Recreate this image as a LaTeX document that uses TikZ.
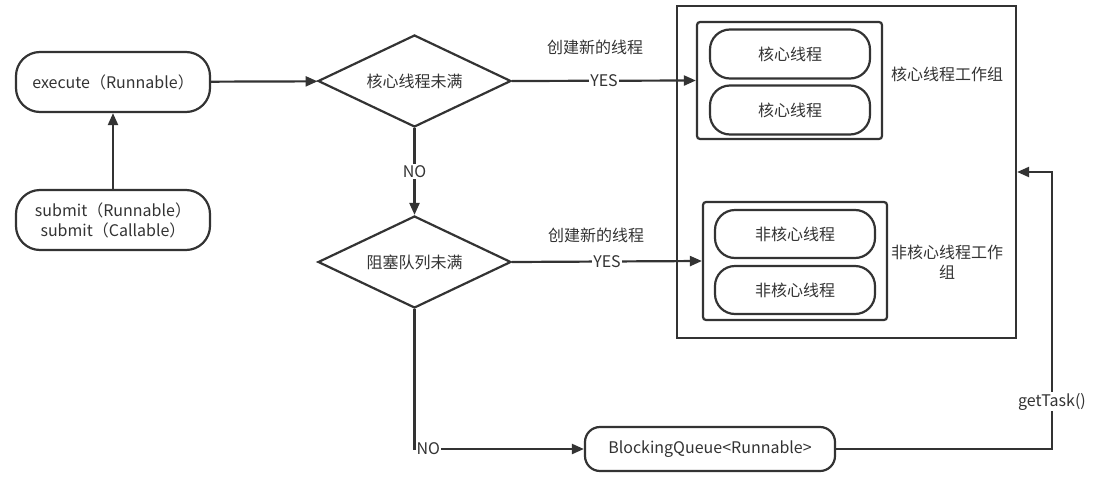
\documentclass[tikz,border=0pt]{standalone}
\usepackage{fontspec}
\setmainfont{Noto Sans CJK SC}
\usetikzlibrary{arrows.meta,shapes.geometric}
\definecolor{ink}{HTML}{333333}
\begin{document}
\begin{tikzpicture}[x=1pt,y=-1pt,
  every node/.style={font=\fontsize{16}{20}\selectfont, text=ink},
  pill/.style={draw=ink, line width=2.2pt, rounded corners=20pt, align=center, inner sep=0pt},
  grp/.style={draw=ink, line width=2.2pt, rounded corners=3pt, inner sep=0pt},
  dia/.style={draw=ink, line width=2.2pt, diamond, aspect=2.1, inner sep=1pt, minimum width=193pt, minimum height=92pt},
  arr/.style={draw=ink, line width=2.2pt, -{Triangle[length=12pt,width=10pt]}},
  lbl/.style={fill=white, inner sep=1pt}]
\useasboundingbox (0,0) rectangle (1116,482);
\node[pill, rounded corners=24pt, minimum width=194pt, minimum height=60pt] (exec) at (113,82) {execute（Runnable）};
\node[pill, rounded corners=24pt, minimum width=194pt, minimum height=60pt] (submit) at (113,220) {submit（Runnable）\\submit（Callable）};
\node[dia] (d1) at (414.5,81) {核心线程未满};
\node[dia] (d2) at (414.5,262) {阻塞队列未满};
\node[draw=ink, line width=2.2pt, minimum width=339pt, minimum height=332pt, inner sep=0pt] (pool) at (846.5,172) {};
\node[grp, minimum width=185pt, minimum height=117pt] (cg) at (789.5,80.5) {};
\node[pill, minimum width=160pt, minimum height=49pt] (c1) at (790,54) {核心线程};
\node[pill, minimum width=160pt, minimum height=49pt] (c2) at (790,110) {核心线程};
\node (cgl) at (947,74) {核心线程工作组};
\node[grp, minimum width=184pt, minimum height=118pt] (ng) at (795,261) {};
\node[pill, minimum width=160pt, minimum height=48pt] (n1) at (795,234) {非核心线程};
\node[pill, minimum width=160pt, minimum height=48pt] (n2) at (795,290) {非核心线程};
\node[align=center] (ngl) at (947,262) {非核心线程工作\\组};
\node[pill, rounded corners=15pt, minimum width=250pt, minimum height=44pt] (bq) at (710,449) {BlockingQueue<Runnable>};
\node (new1) at (595,47) {创建新的线程};
\node (new2) at (596,235) {创建新的线程};
\coordinate (gt) at (1052,172);
\draw[arr] (submit) -- (exec);
\draw[arr] (exec) -- (d1);
\draw[arr] (d1.east) -- node[lbl]{YES} (cg.west);
\draw[arr] (d1) -- node[lbl]{NO} (d2);
\draw[arr] (d2.east) -- node[lbl]{YES} (ng.west);
\draw[arr] (d2.south) |- node[lbl, pos=0.5, anchor=west]{NO} (bq.west);
\draw[arr] (bq.east) -| node[lbl, pos=0.585]{getTask()} (gt) -- (pool.east);
\end{tikzpicture}
\end{document}
